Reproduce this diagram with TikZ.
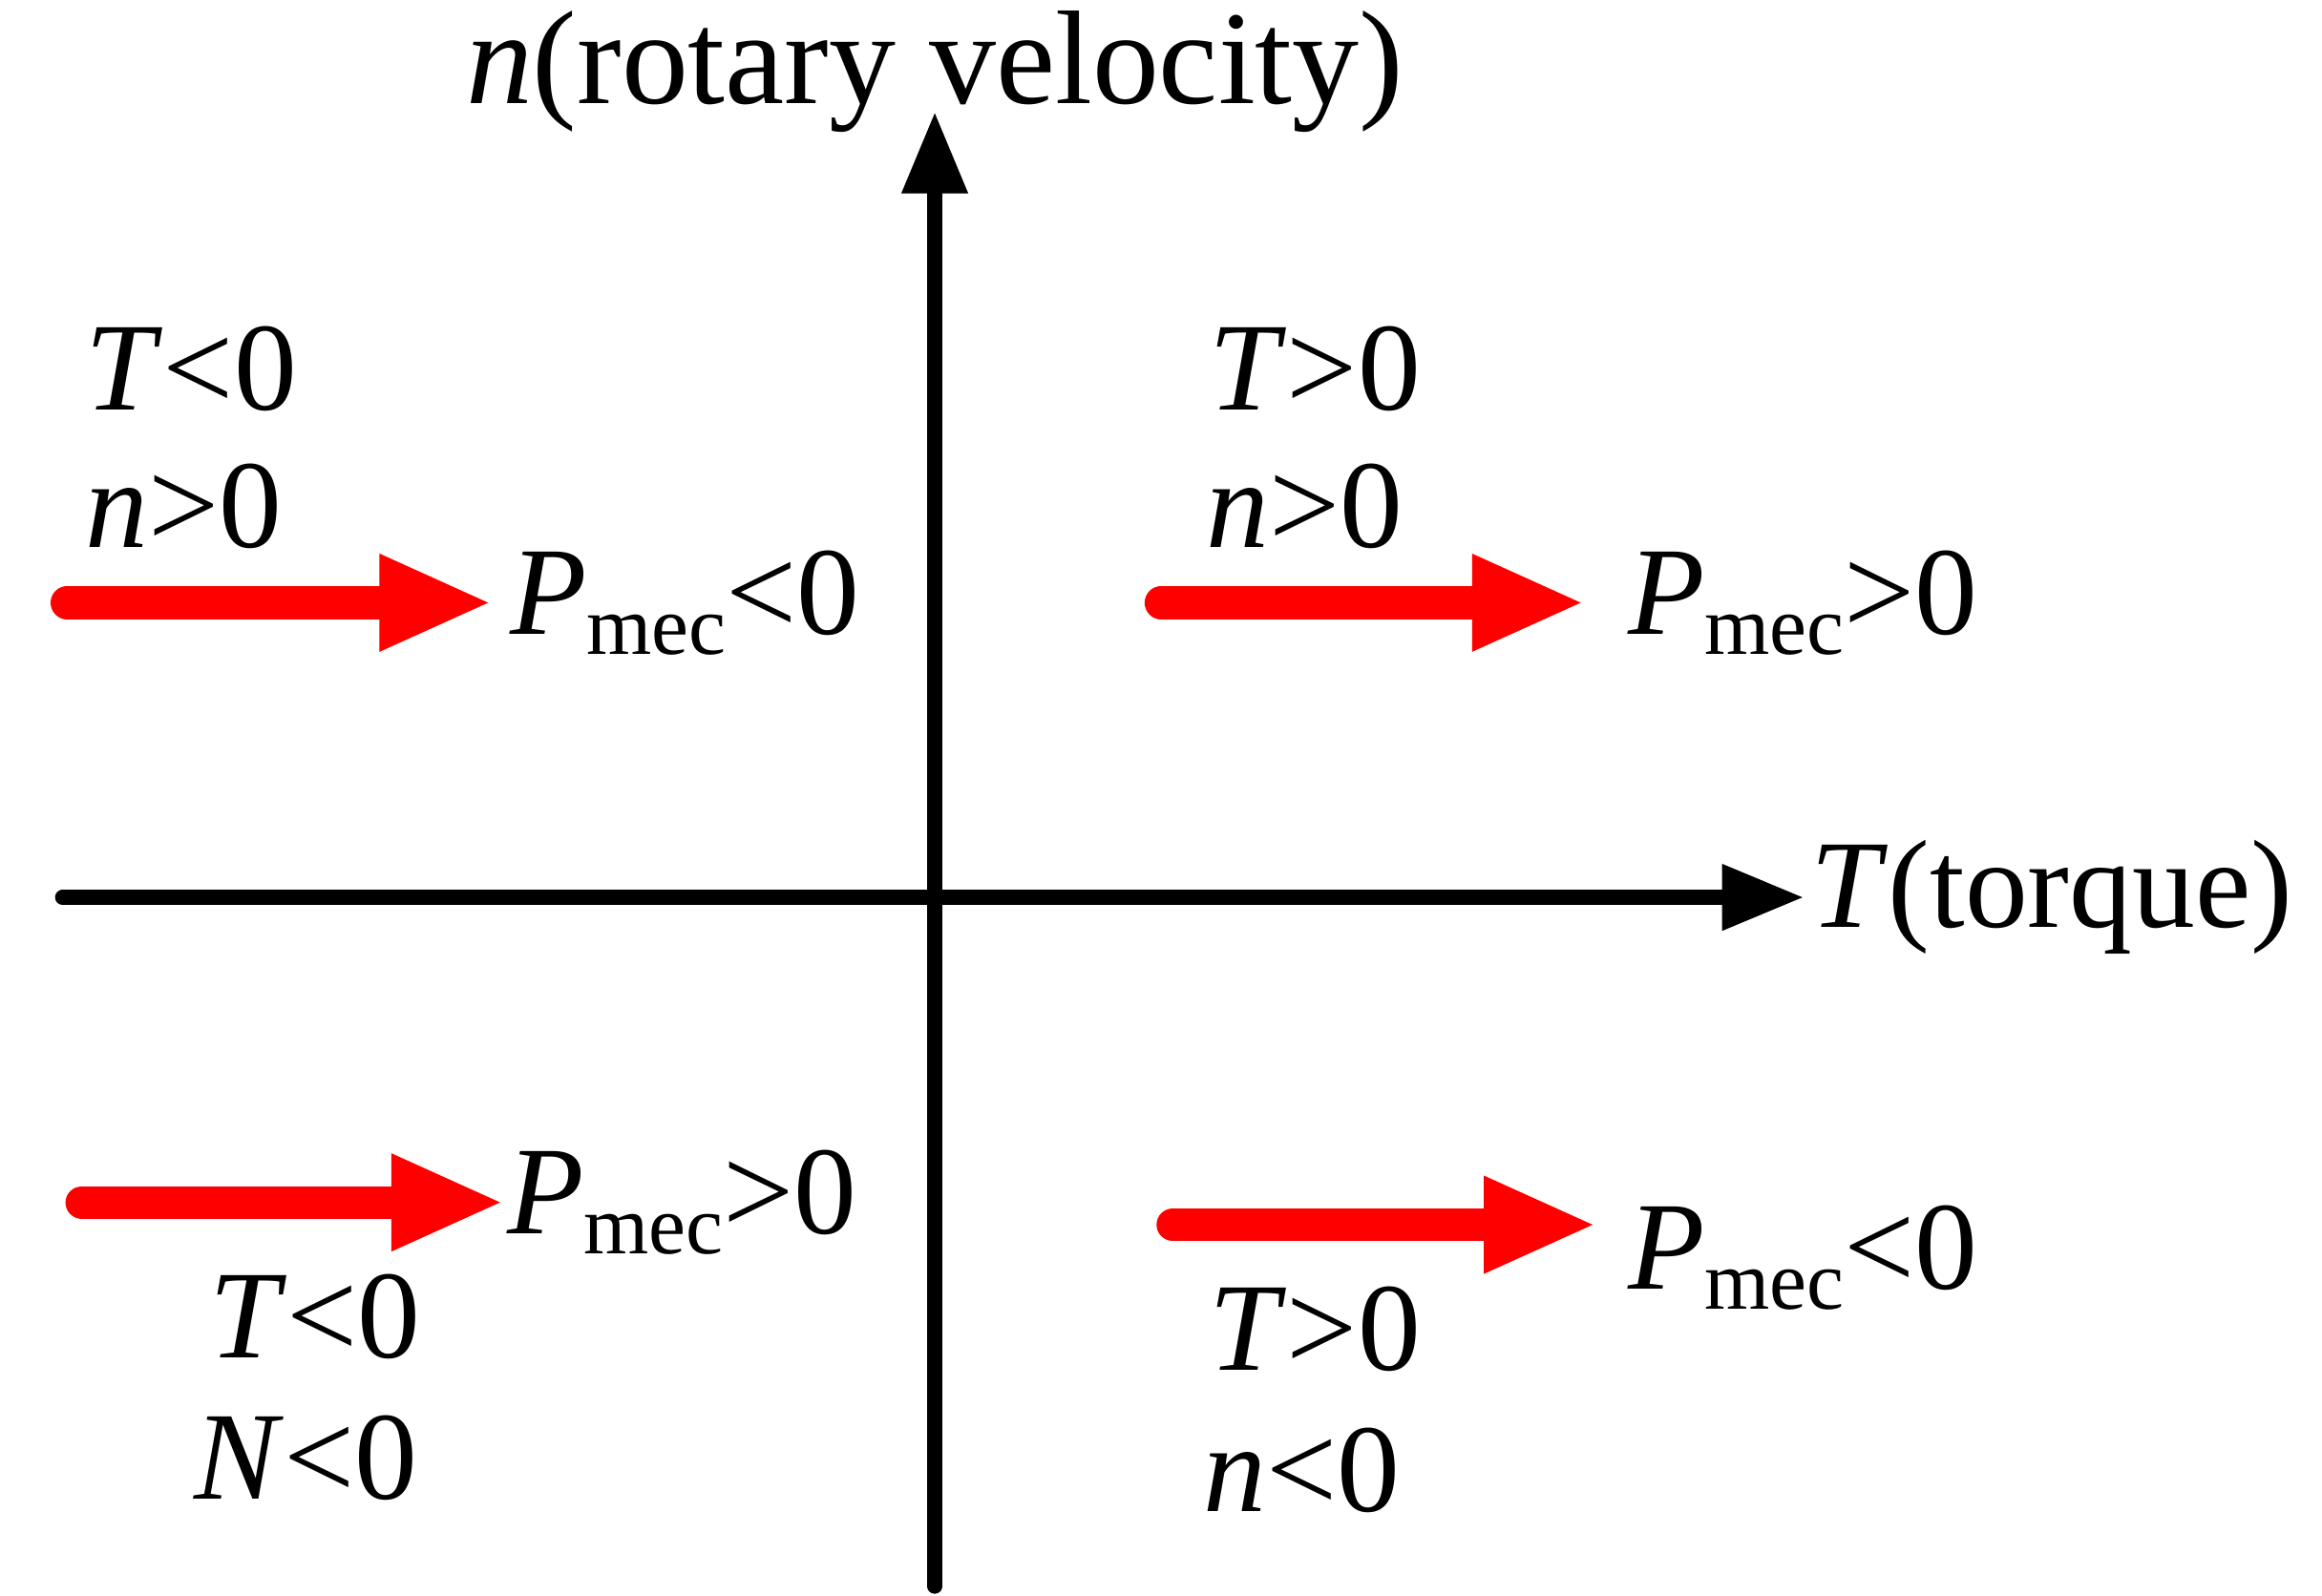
\documentclass[tikz,border=0pt]{standalone}
\usepackage{fontspec}
\setmainfont{Liberation Serif}
\usetikzlibrary{arrows.meta}
\begin{document}
\begin{tikzpicture}[x=0.01cm,y=-0.01cm,
  axis/.style={line width=0.1cm,line cap=round,-{Triangle[length=0.55cm,width=0.42cm]}},
  lbl/.style={font=\fontsize{24}{28}\selectfont,inner sep=0pt},
  lbll/.style={lbl,anchor=west},
  rshaft/.style={red,line width=0.22cm,line cap=round},
  rhead/.style={fill=red}]
\useasboundingbox (0,0) rectangle (1560,1072);
\coordinate (vb) at (628,1066);
\coordinate (vt) at (628,75);
\coordinate (hl) at (42,603);
\coordinate (hr) at (1212,603);
\draw[axis] (vb) -- (vt);
\draw[axis] (hl) -- (hr);
\node[lbl,font=\fontsize{25.5}{30}\selectfont] (ny) at (628,48) {\textit{n}(rotary velocity)};
\node[lbll] (tx) at (1216,603) {\textit{T}(torque)};
% red arrows
\foreach \nm/\xs/\xe/\y in {a/45/328/405, b/780/1062/405, c/55/336/808, d/788/1070/823}{
  \coordinate (\nm s) at (\xs,\y);
  \coordinate (\nm e) at (\xe,\y);
  \draw[rshaft] (\nm s) -- ([xshift=-0.6cm]\nm e);
  \fill[red] (\nm e) -- ([xshift=-0.73cm,yshift=0.33cm]\nm e) -- ([xshift=-0.73cm,yshift=-0.33cm]\nm e) -- cycle;
}
\newcommand{\pmec}{\textit{P}\raisebox{-0.35ex}{\fontsize{16}{20}\selectfont mec}}
\node[lbll] (p1) at (342,405) {\pmec<0};
\node[lbll] (p2) at (1093,405) {\pmec>0};
\node[lbll] (p3) at (340,808) {\pmec>0};
\node[lbll] (p4) at (1093,845) {\pmec<0};
\node[lbll] (q2a) at (57,248) {\textit{T}<0};
\node[lbll] (q2b) at (57,340) {\textit{n}>0};
\node[lbll] (q1a) at (812,248) {\textit{T}>0};
\node[lbll] (q1b) at (810,340) {\textit{n}>0};
\node[lbll] (q3a) at (140,885) {\textit{T}<0};
\node[lbll] (q3b) at (130,980) {\textit{N}<0};
\node[lbll] (q4a) at (812,893) {\textit{T}>0};
\node[lbll] (q4b) at (808,988) {\textit{n}<0};
\end{tikzpicture}
\end{document}
